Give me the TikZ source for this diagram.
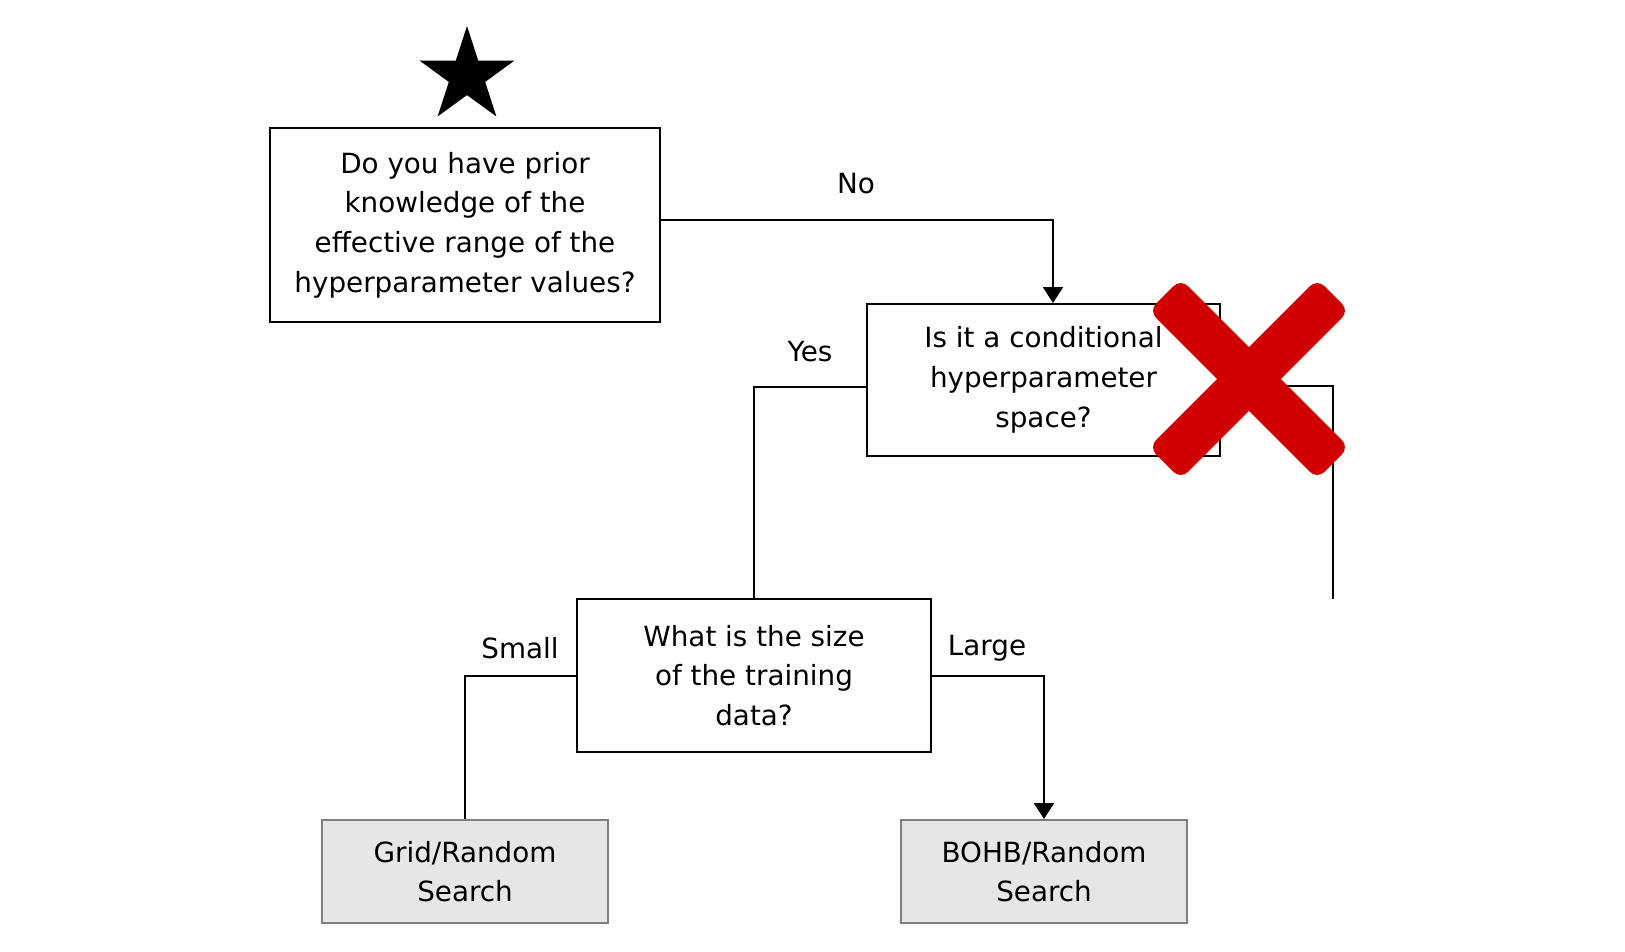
\documentclass[tikz,border=0pt]{standalone}
\usepackage{fontspec}
\setmainfont{DejaVu Sans}
\usetikzlibrary{shapes.geometric,arrows.meta}
\definecolor{xred}{RGB}{208,0,0}
\definecolor{boxgray}{RGB}{230,230,230}
\definecolor{edgegray}{RGB}{128,128,128}
\begin{document}
\begin{tikzpicture}[x=1pt,y=-1pt,
  font=\fontsize{27.8}{39.7}\selectfont,
  qbox/.style={draw=black, line width=2pt, align=center, inner sep=0pt, rectangle},
  abox/.style={draw=edgegray, fill=boxgray, line width=2pt, align=center, inner sep=0pt, rectangle},
  lbl/.style={inner sep=0pt},
  conn/.style={line width=2pt},
  arr/.style={conn, -{Triangle[width=20pt,length=16pt]}},
  xarm/.style={fill=xred, rounded corners=10pt}]
\useasboundingbox (0,0) rectangle (1625,951);

\node[star, star points=5, star point ratio=2.618, fill=black, inner sep=0pt, minimum size=100pt] (st) at (467,76) {};

\node[qbox, minimum width=390pt, minimum height=194pt] (q1) at (465,225)
  {Do you have prior\\knowledge of the\\effective range of the\\hyperparameter values?};
\node[qbox, minimum width=353pt, minimum height=152pt] (q2) at (1043.5,380)
  {Is it a conditional\\hyperparameter\\space?};
\node[qbox, minimum width=354pt, minimum height=153pt] (q3) at (754,675.5)
  {What is the size\\of the training\\data?};
\node[abox, minimum width=286pt, minimum height=103pt] (a1) at (465,871.5)
  {Grid/Random\\Search};
\node[abox, minimum width=286pt, minimum height=103pt] (a2) at (1044,871.5)
  {BOHB/Random\\Search};

\node[lbl] (lno) at (856,184) {No};
\node[lbl] (lyes) at (810,352) {Yes};
\node[lbl] (lsmall) at (520,648) {Small};
\node[lbl] (llarge) at (987,648) {Large};

\coordinate (rend) at (1333,599);

\draw[arr] ([yshift=5pt]q1.east) -| ([xshift=9.5pt]q2.north);
\draw[conn] ([yshift=-7pt]q2.west) -| (q3.north);
\draw[conn] ([yshift=-6pt]q2.east) -| (rend);
\draw[conn] (q3.west) -| (a1.north);
\draw[arr] (q3.east) -| (a2.north);

\path[xarm] (1317.24,479.06) -- (1349.06,447.24) -- (1180.76,278.94) -- (1148.94,310.76) -- cycle;
\path[xarm] (1180.76,479.06) -- (1148.94,447.24) -- (1317.24,278.94) -- (1349.06,310.76) -- cycle;
\end{tikzpicture}
\end{document}
